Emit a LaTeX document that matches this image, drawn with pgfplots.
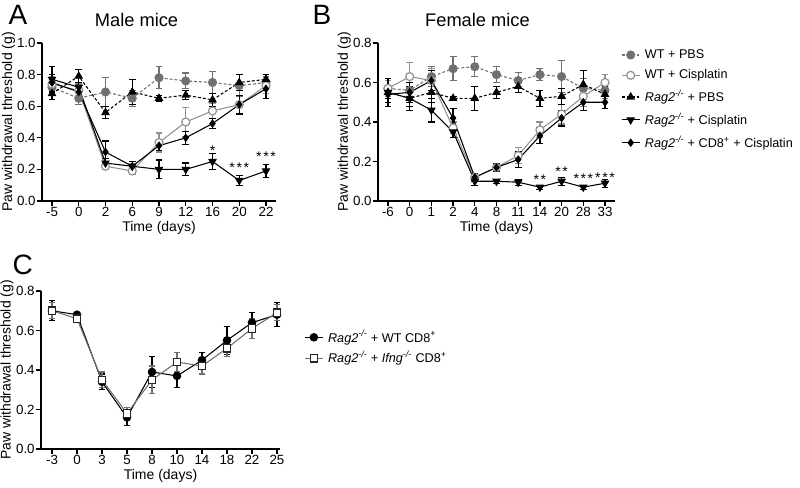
\documentclass[border=0pt]{standalone}
\usepackage{fontspec}
\setmainfont{Liberation Sans}
\usepackage{pgfplots}
\pgfplotsset{compat=1.18}

\definecolor{gd}{RGB}{112,112,112}
\definecolor{gl}{RGB}{145,145,145}

\tikzset{star/.style={anchor=base, font=\fontsize{10.5}{12}\selectfont}}
\newcommand{\sk}{\kern1.2pt}

\pgfplotsset{
  prism/.style={
    scale only axis, axis lines=left, axis line style={-, line width=1pt},
    tick align=outside, major tick length=3.75pt, tick style={line width=1pt, black},
    ymin=0, clip=false,
    ticklabel style={font=\fontsize{10}{12}\selectfont},
    xticklabel style={yshift=2.5pt},
    yticklabel style={xshift=2.5pt},
    /pgf/number format/assume math mode=true,
    yticklabel style={/pgf/number format/.cd, fixed, fixed zerofill, precision=1},
    xlabel={Time (days)}, ylabel={Paw withdrawal threshold (g)},
    label style={font=\fontsize{10.5}{12}\selectfont},
    xlabel style={at={(axis description cs:0.5,-0.19)}, anchor=base},
    ylabel style={at={(axis description cs:-0.114,0.5)}, anchor=south, inner sep=0pt},
    error bars/y dir=both, error bars/y explicit,
    error bars/error bar style={solid, line width=0.9pt},
    error bars/error mark options={solid, rotate=90, mark size=2.6pt, line width=0.9pt},
    legend image code/.code={\draw[mark repeat=2,mark phase=2] plot coordinates {(0pt,0pt)(6.75pt,0pt)(13.5pt,0pt)};},
  },
  wtpbs/.style={gd, dash pattern=on 2.2pt off 1.5pt, line width=0.8pt, mark=*, mark size=3pt, mark options={solid, fill=gd, draw=gd}},
  wtcis/.style={gl, solid, line width=0.8pt, mark=*, mark size=3pt, mark options={solid, fill=white, draw=gl, line width=0.9pt}},
  rpbs/.style={black, dash pattern=on 2.2pt off 1.5pt, line width=0.8pt, mark=triangle*, mark size=3pt, mark options={solid, fill=black}},
  rcis/.style={black, solid, line width=0.8pt, mark=triangle*, mark size=3pt, mark options={solid, fill=black, rotate=180}},
  rcd8/.style={black, solid, line width=0.8pt, mark=diamond*, mark size=2.6pt, mark options={solid, fill=black}},
}

\begin{document}
\begin{tikzpicture}
\path[use as bounding box] (0,0) rectangle (600pt,366pt);

% panel letters and titles
\node[anchor=base west, font=\fontsize{21}{24}\selectfont] at (3pt,347.25pt) {A};
\node[anchor=base west, font=\fontsize{21}{24}\selectfont] at (231pt,347.25pt) {B};
\node[anchor=base west, font=\fontsize{21}{24}\selectfont] at (6pt,159.75pt) {C};
\node[anchor=base, font=\fontsize{13.7}{16}\selectfont] at (102.4pt,345.75pt) {Male mice};
\node[anchor=base, font=\fontsize{13.7}{16}\selectfont] at (358.1pt,345.75pt) {Female mice};

% A: male mice
\begin{axis}[prism, at={(31.5pt,215.25pt)}, anchor=south west,
  width=175.5pt, height=118.5pt,
  xmin=-0.374, xmax=8.374, ymax=1.0, ytick={0,0.2,...,1.0},
  xtick={0,...,8}, xticklabels={-5,0,2,6,9,12,16,20,22}]
\addplot[wtpbs] coordinates {(0,0.72)+-(0,0.05) (1,0.65)+-(0,0.04) (2,0.69)+-(0,0.09) (3,0.65)+-(0,0.05) (4,0.78)+-(0,0.07) (5,0.76)+-(0,0.05) (6,0.75)+-(0,0.07) (7,0.73)+-(0,0.07) (8,0.75)+-(0,0.04)};
\addplot[wtcis] coordinates {(0,0.74)+-(0,0.05) (1,0.70)+-(0,0.04) (2,0.22)+-(0,0.02) (3,0.19)+-(0,0.02) (4,0.37)+-(0,0.06) (5,0.50)+-(0,0.09) (6,0.57)+-(0,0.05) (7,0.61)+-(0,0.06) (8,0.73)+-(0,0.05)};
\addplot[rpbs] coordinates {(0,0.68)+-(0,0.04) (1,0.79)+-(0,0.04) (2,0.56)+-(0,0.04) (3,0.69)+-(0,0.08) (4,0.65)+-(0,0.02) (5,0.67)+-(0,0.03) (6,0.64)+-(0,0.04) (7,0.75)+-(0,0.05) (8,0.77)+-(0,0.03)};
\addplot[rcis] coordinates {(0,0.77)+-(0,0.08) (1,0.72)+-(0,0.03) (2,0.24)+-(0,0.03) (3,0.22)+-(0,0.03) (4,0.20)+-(0,0.06) (5,0.20)+-(0,0.04) (6,0.25)+-(0,0.05) (7,0.13)+-(0,0.03) (8,0.19)+-(0,0.04)};
\addplot[rcd8] coordinates {(0,0.75)+-(0,0.05) (1,0.69)+-(0,0.04) (2,0.31)+-(0,0.07) (3,0.22)+-(0,0.03) (4,0.35)+-(0,0.03) (5,0.40)+-(0,0.04) (6,0.49)+-(0,0.03) (7,0.61)+-(0,0.06) (8,0.71)+-(0,0.06)};
\node[star] at (axis cs:6,0.29) {*};
\node[star] at (axis cs:7,0.18) {*\sk*\sk*};
\node[star] at (axis cs:8,0.25) {*\sk*\sk*};
\end{axis}

% B: female mice
\begin{axis}[prism, at={(283.5pt,215.25pt)}, anchor=south west,
  width=177.75pt, height=118.5pt,
  xmin=-0.46, xmax=10.46, ymax=0.8, ytick={0,0.2,...,0.8},
  xtick={0,...,10}, xticklabels={-6,0,1,2,4,8,11,14,20,28,33},
  legend style={at={(1.008,0.994)}, anchor=north west, draw=none, fill=none,
    font=\fontsize{9.5}{11.5}\selectfont, row sep=3pt, column sep=1.5pt, cells={anchor=west}}]
\addplot[wtpbs] coordinates {(0,0.57)+-(0,0.05) (1,0.56)+-(0,0.04) (2,0.63)+-(0,0.05) (3,0.67)+-(0,0.06) (4,0.68)+-(0,0.05) (5,0.64)+-(0,0.04) (6,0.61)+-(0,0.04) (7,0.64)+-(0,0.03) (8,0.63)+-(0,0.08) (9,0.57)+-(0,0.05) (10,0.56)+-(0,0.04)};
\addlegendentry{WT + PBS}
\addplot[wtcis] coordinates {(0,0.57)+-(0,0.04) (1,0.63)+-(0,0.07) (2,0.61)+-(0,0.06) (3,0.37)+-(0,0.03) (4,0.12)+-(0,0.02) (5,0.17)+-(0,0.02) (6,0.23)+-(0,0.04) (7,0.36)+-(0,0.04) (8,0.44)+-(0,0.05) (9,0.53)+-(0,0.05) (10,0.60)+-(0,0.04)};
\addlegendentry{WT + Cisplatin}
\addplot[rpbs] coordinates {(0,0.55)+-(0,0.03) (1,0.52)+-(0,0.04) (2,0.55)+-(0,0.05) (3,0.52)+-(0,0.01) (4,0.52)+-(0,0.06) (5,0.55)+-(0,0.03) (6,0.58)+-(0,0.03) (7,0.52)+-(0,0.04) (8,0.53)+-(0,0.04) (9,0.59)+-(0,0.07) (10,0.54)+-(0,0.04)};
\addlegendentry{\textit{Rag2}\textsuperscript{\textit{-/-}} + PBS}
\addplot[rcis] coordinates {(0,0.55)+-(0,0.07) (1,0.52)+-(0,0.06) (2,0.46)+-(0,0.06) (3,0.35)+-(0,0.03) (4,0.10)+-(0,0.02) (5,0.10)+-(0,0.01) (6,0.095)+-(0,0.015) (7,0.07)+-(0,0.01) (8,0.10)+-(0,0.02) (9,0.07)+-(0,0.01) (10,0.09)+-(0,0.02)};
\addlegendentry{\textit{Rag2}\textsuperscript{\textit{-/-}} + Cisplatin}
\addplot[rcd8] coordinates {(0,0.54)+-(0,0.04) (1,0.55)+-(0,0.05) (2,0.61)+-(0,0.05) (3,0.42)+-(0,0.05) (4,0.12)+-(0,0.02) (5,0.17)+-(0,0.02) (6,0.21)+-(0,0.04) (7,0.33)+-(0,0.04) (8,0.42)+-(0,0.04) (9,0.50)+-(0,0.04) (10,0.50)+-(0,0.03)};
\addlegendentry{\textit{Rag2}\textsuperscript{\textit{-/-}} + CD8\textsuperscript{+} + Cisplatin}
\node[star] at (axis cs:7,0.085) {*\sk*};
\node[star] at (axis cs:8,0.125) {*\sk*};
\node[star] at (axis cs:9,0.09) {*\sk*\sk*};
\node[star] at (axis cs:10,0.095) {*\sk*\sk*};
\end{axis}

% C
\begin{axis}[prism, at={(30.75pt,29.25pt)}, anchor=south west,
  width=179.25pt, height=118.5pt,
  xmin=-0.44, xmax=9.12, ymax=0.8, ytick={0,0.2,...,0.8},
  xtick={0,...,9}, xticklabels={-3,0,3,5,8,10,14,18,22,25},
  legend style={at={(1.084,0.785)}, anchor=north west, draw=none, fill=none,
    font=\fontsize{9.5}{11.5}\selectfont, row sep=1.5pt, column sep=1.5pt, cells={anchor=west}}]
\addplot[black, solid, line width=0.8pt, mark=*, mark size=2.8pt, mark options={solid, fill=black}] coordinates {(0,0.70)+-(0,0.05) (1,0.68)+-(0,0.01) (2,0.34)+-(0,0.04) (3,0.16)+-(0,0.04) (4,0.39)+-(0,0.08) (5,0.37)+-(0,0.06) (6,0.45)+-(0,0.04) (7,0.55)+-(0,0.07) (8,0.64)+-(0,0.05) (9,0.68)+-(0,0.06)};
\addlegendentry{\textit{Rag2}\textsuperscript{\textit{-/-}} + WT CD8\textsuperscript{+}}
\addplot[gd, solid, line width=0.8pt, mark=square*, mark size=2.8pt, mark options={solid, fill=white, draw=black!85, line width=0.9pt}] coordinates {(0,0.70)+-(0,0.04) (1,0.66)+-(0,0.02) (2,0.35)+-(0,0.04) (3,0.18)+-(0,0.03) (4,0.35)+-(0,0.07) (5,0.44)+-(0,0.05) (6,0.42)+-(0,0.04) (7,0.51)+-(0,0.04) (8,0.61)+-(0,0.05) (9,0.69)+-(0,0.04)};
\addlegendentry{\textit{Rag2}\textsuperscript{\textit{-/-}} + \textit{Ifng}\textsuperscript{\textit{-/-}} CD8\textsuperscript{+}}
\end{axis}
\end{tikzpicture}
\end{document}
